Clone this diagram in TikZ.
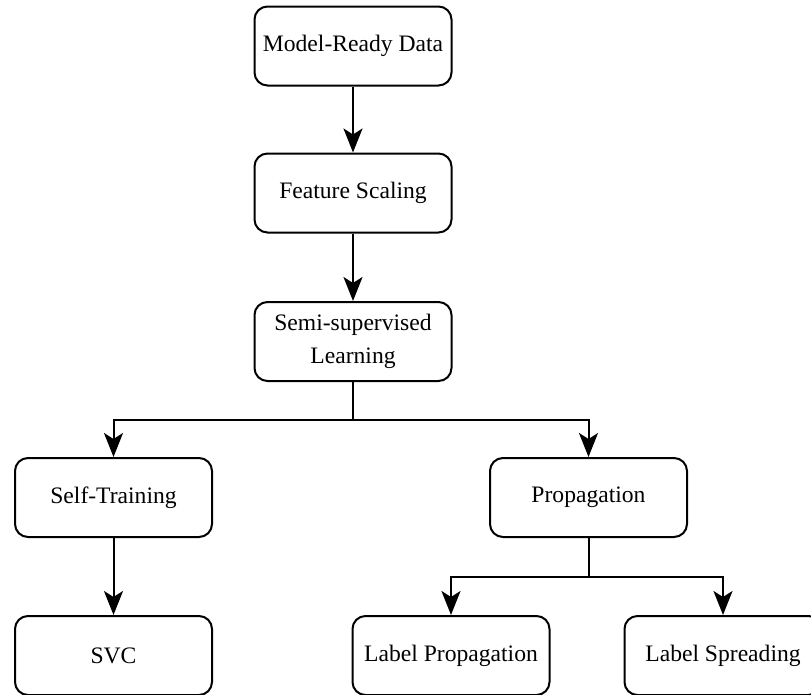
\documentclass[tikz,border=0pt]{standalone}
\usepackage{fontspec}
\setmainfont{Liberation Serif}
\usetikzlibrary{arrows.meta}

\begin{document}
\begin{tikzpicture}[x=1pt, y=-1pt,
    box/.style={draw, line width=2pt, rounded corners=13pt,
        minimum width=197pt, minimum height=79pt, align=center,
        font=\fontsize{23.6}{33}\selectfont},
    arr/.style={line width=2pt, -{Stealth[length=24pt, width=19pt, inset=6pt]}}]
    % Fix the frame of the picture
    \useasboundingbox (0,0) rectangle (811,694);

    % Main chain
    \node[box] (mrd) at (353,46) {Model-Ready Data};
    \node[box] (fs) at (353,193) {Feature Scaling};
    \node[box] (ssl) at (353,341.5) {Semi-supervised\\Learning};

    % Two families of methods
    \node[box] (st) at (113.5,497.5) {Self-Training};
    \node[box] (prop) at (588.5,497.5) {Propagation};

    % Concrete models
    \node[box] (svc) at (113.5,655.5) {SVC};
    \node[box] (lp) at (451,655.5) {Label Propagation};
    \node[box] (ls) at (723,655.5) {Label Spreading};

    % Split points of the branching connectors
    \coordinate (split1) at (353,420);
    \coordinate (split2) at (588.5,577);

    \draw[arr] (mrd) -- (fs);
    \draw[arr] (fs) -- (ssl);
    \draw[line width=2pt] (ssl.south) -- (split1);
    \draw[arr] (split1) -| (st.north);
    \draw[arr] (split1) -| (prop.north);
    \draw[arr] (st) -- (svc);
    \draw[line width=2pt] (prop.south) -- (split2);
    \draw[arr] (split2) -| (lp.north);
    \draw[arr] (split2) -| (ls.north);
\end{tikzpicture}
\end{document}
